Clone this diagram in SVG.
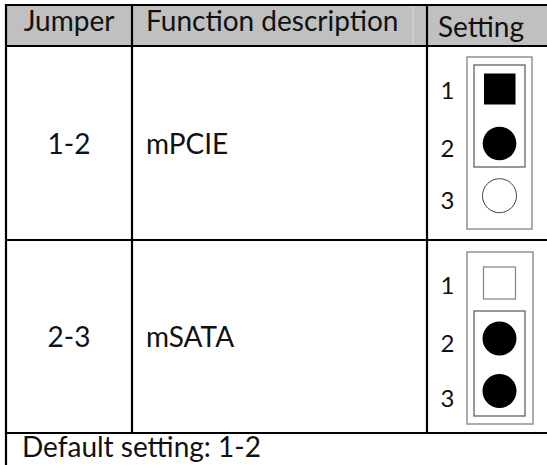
<svg xmlns="http://www.w3.org/2000/svg" width="547" height="465" viewBox="0 0 547 465">
<style>
.t{font-family:Lato,"Carlito","Open Sans",sans-serif;font-size:28px;fill:#111}
.n{font-family:Lato,"Open Sans",sans-serif;font-size:24px;fill:#111;text-anchor:middle}
.g{stroke:#000;stroke-width:2.2;fill:none}
.box{fill:#fff;stroke:#8a8a8a;stroke-width:1.4}
.inner{fill:none;stroke:#555;stroke-width:1.2}
</style>
<rect width="547" height="465" fill="#fff"/>
<g id="header">
<rect x="6" y="5" width="541" height="41" fill="#c0c0c0"/>
<line x1="413" y1="6" x2="413" y2="45" stroke="#dadada" stroke-width="1"/>
<text class="t" x="69" y="31" text-anchor="middle">Jumper</text>
<text class="t" x="146" y="31">Function description</text>
<text class="t" x="438" y="37">Setting</text>
</g>
<g id="grid">
<path class="g" d="M6,5H547M6,46H547M6,240H547M6,433H547M6,4V465M132,5V433M427,5V433"/>
</g>
<g id="row1">
<text class="t" x="69" y="154" text-anchor="middle">1-2</text>
<text class="t" x="146" y="154">mPCIE</text>
<rect class="box" x="467" y="57" width="65" height="172"/>
<rect class="inner" x="474" y="65" width="51" height="102"/>
<rect x="484" y="73.5" width="31.5" height="31" fill="#000"/>
<circle cx="499.5" cy="143.5" r="16.8" fill="#000"/>
<circle cx="499.5" cy="195.7" r="17" fill="#fff" stroke="#444" stroke-width="1"/>
<text class="n" x="447.5" y="99">1</text>
<text class="n" x="447.5" y="157">2</text>
<text class="n" x="447.5" y="209">3</text>
</g>
<g id="row2">
<text class="t" x="69" y="347" text-anchor="middle">2-3</text>
<text class="t" x="146" y="347">mSATA</text>
<rect class="box" x="467" y="252" width="66" height="172"/>
<rect x="483.5" y="267" width="32" height="32" fill="#fff" stroke="#8a8a8a" stroke-width="1.3"/>
<rect class="inner" x="474" y="311" width="51" height="105"/>
<circle cx="499.5" cy="338.5" r="17" fill="#000"/>
<circle cx="499.5" cy="391" r="17" fill="#000"/>
<text class="n" x="447.5" y="294">1</text>
<text class="n" x="447.5" y="352">2</text>
<text class="n" x="447.5" y="407">3</text>
</g>
<g id="footer">
<text class="t" x="22" y="457">Default setting: 1-2</text>
</g>
</svg>
